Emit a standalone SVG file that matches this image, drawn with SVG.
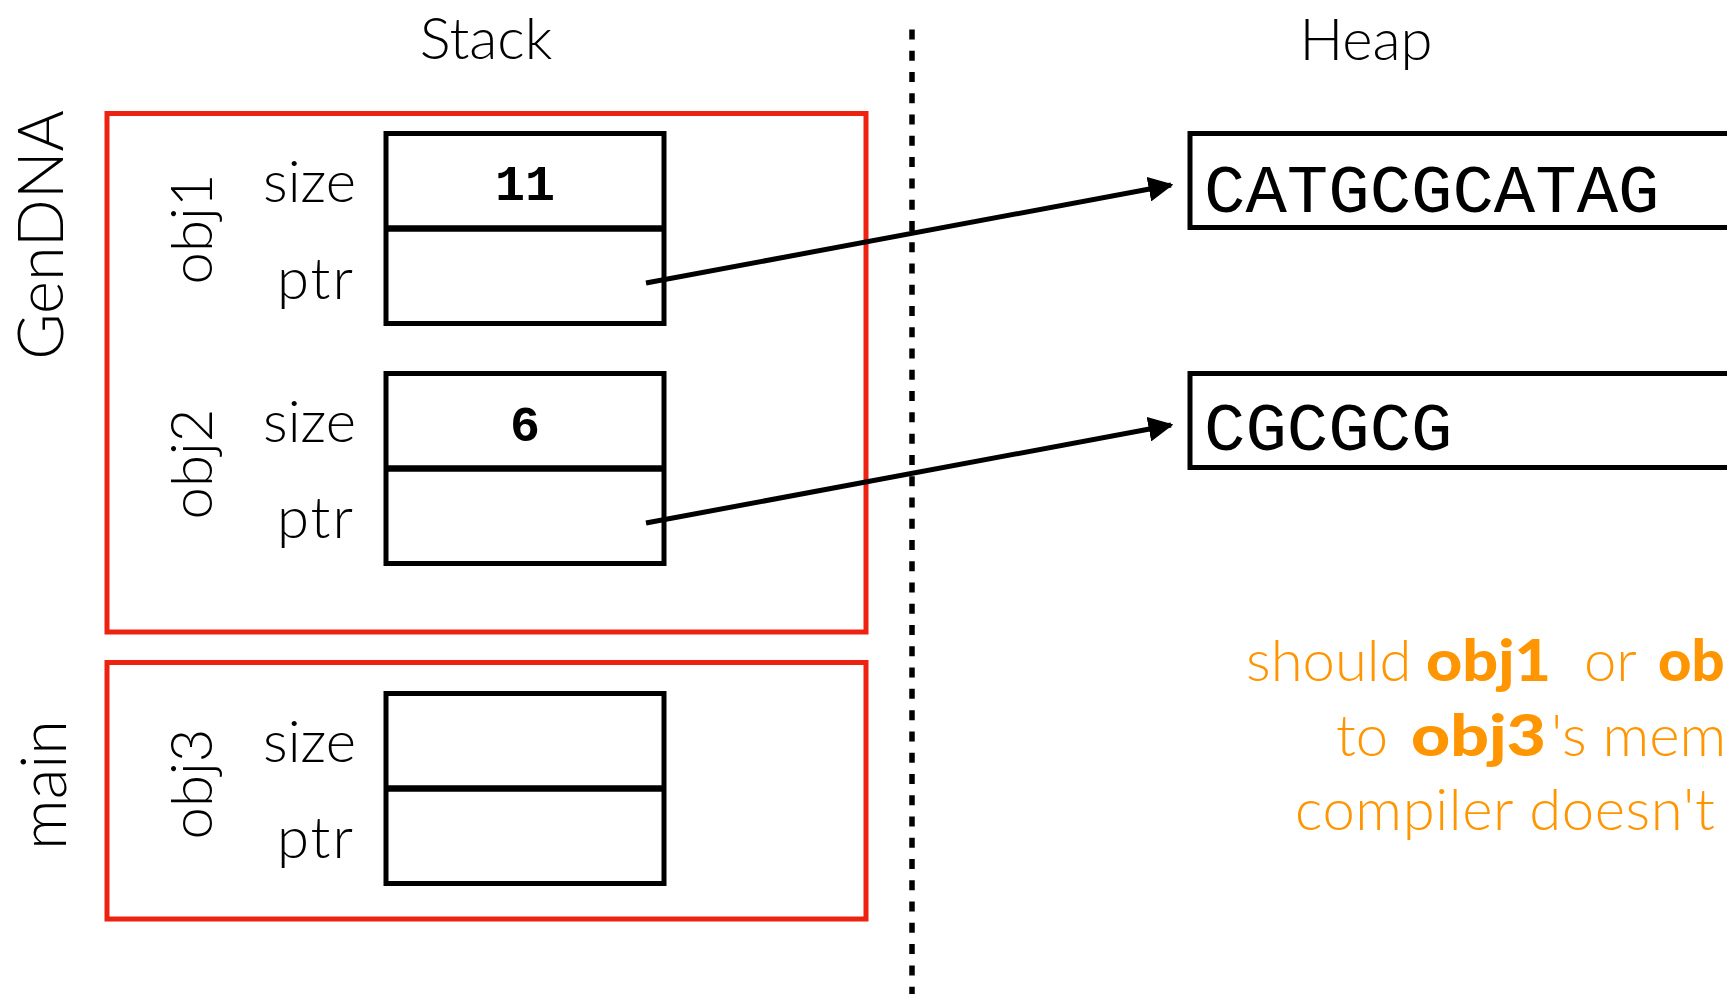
<svg xmlns="http://www.w3.org/2000/svg" width="1727" height="994" viewBox="0 0 1727 994">
  <defs>
    <style>
      .title { font-family: Lato, "Open Sans", sans-serif; font-weight: 300; font-size: 58px; fill: #000; }
      .frame-label { font-family: Lato, "Open Sans", sans-serif; font-weight: 300; font-size: 63px; fill: #000; }
      .field { font-family: Lato, "Open Sans", sans-serif; font-weight: 300; font-size: 58px; fill: #000; text-anchor: end; }
      .field.wide { letter-spacing: 2px; }
      .objname { font-family: Lato, "Open Sans", sans-serif; font-weight: 300; font-size: 58px; fill: #000; text-anchor: middle; }
      .frame { fill: none; stroke: #EE2211; stroke-width: 5; }
      .cell { fill: #fff; stroke: #000; stroke-width: 5; }
      .split { stroke: #000; stroke-width: 6.5; }
      .value { font-family: "Liberation Mono", "Courier New", monospace; font-weight: bold; font-size: 50px; fill: #000; text-anchor: middle; }
      .dna { font-family: "Liberation Mono", "Courier New", monospace; font-size: 69px; fill: #000; }
      .link { fill: none; stroke: #000; stroke-width: 5; marker-end: url(#arrow); }
      .divider { fill: none; stroke: #000; stroke-width: 5.5; stroke-dasharray: 10 11.27; }
      .note { font-family: Lato, "Open Sans", sans-serif; font-weight: 300; font-size: 58px; fill: #FF9500; }
      .note.b { font-weight: 900; }
    </style>
    <marker id="arrow" viewBox="0 0 10 10" refX="9" refY="5" markerWidth="5" markerHeight="5" markerUnits="strokeWidth" orient="auto">
      <path d="M0,0 L10,5 L0,10 z" fill="#000"/>
    </marker>
  </defs>

  <rect width="1727" height="994" fill="#fff"/>

  <!-- column headings -->
  <text class="title" x="486" y="59" text-anchor="middle">Stack</text>
  <text class="title" x="1366" y="60" text-anchor="middle">Heap</text>

  <!-- stack / heap divider -->
  <line class="divider" x1="912" y1="29.5" x2="912" y2="994"/>

  <!-- GenDNA frame -->
  <g id="frame-gendna">
    <rect class="frame" x="107" y="113.5" width="759" height="518.5"/>
    <text class="frame-label" transform="translate(63,235) rotate(-90)" text-anchor="middle">GenDNA</text>
  </g>

  <!-- main frame -->
  <g id="frame-main">
    <rect class="frame" x="107" y="662.5" width="759" height="256.5"/>
    <text class="frame-label" transform="translate(66,785) rotate(-90)" text-anchor="middle">main</text>
  </g>

  <!-- obj1 -->
  <g id="obj1">
    <text class="objname" transform="translate(212,229) rotate(-90)">obj1</text>
    <text class="field" x="356" y="202">size</text>
    <text class="field wide" x="355" y="299">ptr</text>
    <rect class="cell" x="386" y="133.5" width="278" height="190"/>
    <line class="split" x1="386" y1="228.5" x2="664" y2="228.5"/>
    <text class="value" x="525" y="200">11</text>
  </g>

  <!-- obj2 -->
  <g id="obj2">
    <text class="objname" transform="translate(212,464) rotate(-90)">obj2</text>
    <text class="field" x="356" y="442">size</text>
    <text class="field wide" x="355" y="538">ptr</text>
    <rect class="cell" x="386" y="373.5" width="278" height="190"/>
    <line class="split" x1="386" y1="468.5" x2="664" y2="468.5"/>
    <text class="value" x="525" y="441">6</text>
  </g>

  <!-- obj3 -->
  <g id="obj3">
    <text class="objname" transform="translate(212,784) rotate(-90)">obj3</text>
    <text class="field" x="356" y="762">size</text>
    <text class="field wide" x="355" y="858">ptr</text>
    <rect class="cell" x="386" y="693.5" width="278" height="190"/>
    <line class="split" x1="386" y1="788.5" x2="664" y2="788.5"/>
  </g>

  <!-- heap blocks -->
  <g id="heap1">
    <rect class="cell" x="1190" y="133.5" width="560" height="94"/>
    <text class="dna" x="1204" y="212">CATGCGCATAG</text>
  </g>
  <g id="heap2">
    <rect class="cell" x="1190" y="373.5" width="560" height="94"/>
    <text class="dna" x="1204" y="450">CGCGCG</text>
  </g>

  <!-- pointers -->
  <g id="connectors">
    <line class="link" x1="646" y1="283" x2="1171" y2="185"/>
    <line class="link" x1="646" y1="523" x2="1171" y2="425"/>
  </g>

  <!-- question -->
  <g id="note">
    <text class="note" x="1246" y="681">should</text>
    <text class="note b" x="1426" y="681" textLength="125" lengthAdjust="spacingAndGlyphs">obj1</text>
    <text class="note" x="1584" y="681">or</text>
    <text class="note b" x="1658" y="681">ob</text>
    <text class="note" x="1336" y="756">to</text>
    <text class="note b" x="1411" y="756" textLength="135" lengthAdjust="spacingAndGlyphs">obj3</text>
    <text class="note" x="1551" y="756">'s mem</text>
    <text class="note" x="1295" y="830" letter-spacing="0.6">compiler doesn't</text>
  </g>
</svg>
